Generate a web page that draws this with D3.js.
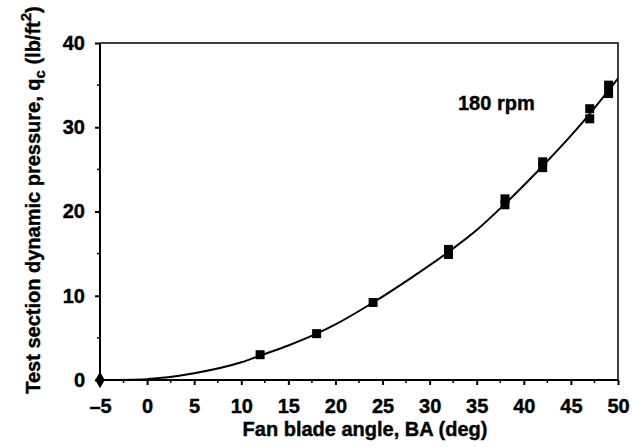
<!DOCTYPE html>
<html><head><meta charset="utf-8">
<script src="https://cdn.jsdelivr.net/npm/d3@7"></script>
<style>body{margin:0;background:#fff}svg{display:block}text{font-family:"Liberation Sans",Arial,Helvetica,sans-serif;font-weight:bold;fill:#000;stroke:#000;stroke-width:0.4}</style>
</head><body>
<svg id="c" width="632" height="448"></svg>
<script>
// Data
const pointX = [-5, 12, 18, 24, 32, 32, 38, 38, 42, 42, 47, 47, 49, 49];
const pointY = [0, 3.0, 5.5, 9.2, 14.9, 15.5, 20.8, 21.5, 25.2, 25.9, 31.0, 32.2, 34.0, 35.0];
const curveX = [-5, 0, 2, 5, 10, 12, 15, 18, 20, 24, 28, 32, 35, 38, 42, 45, 47, 50];
const curveY = [0, 0.1, 0.3, 0.8, 2.1, 2.9, 4.1, 5.5, 6.6, 9.2, 12.1, 15.2, 17.8, 20.9, 25.4, 29.0, 31.6, 35.8];
const xTicks = [-5, 0, 5, 10, 15, 20, 25, 30, 35, 40, 45, 50];
const yTicks = [0, 10, 20, 30, 40];
const label = "180 rpm";

const svg = d3.select("#c");
const x = d3.scaleLinear().domain([-5, 50]).range([100, 618]);
const y = d3.scaleLinear().domain([0, 40]).range([380, 43]);

// minor ticks
const xMinor = d3.range(-2.5, 50, 5);
const yMinor = d3.range(5, 40, 10);
svg.append("g").selectAll("line").data(xMinor).join("line")
  .attr("x1", d => x(d)).attr("x2", d => x(d)).attr("y1", 380).attr("y2", 383)
  .attr("stroke", "#000").attr("stroke-width", 1.5);
svg.append("g").selectAll("line").data(yMinor).join("line")
  .attr("y1", d => y(d)).attr("y2", d => y(d)).attr("x1", 100).attr("x2", 97)
  .attr("stroke", "#000").attr("stroke-width", 1.5);

// axes
const xAxis = svg.append("g").attr("transform", "translate(0,380)")
  .call(d3.axisBottom(x).tickValues(xTicks).tickSize(5).tickPadding(14).tickFormat(d => d < 0 ? "\u2013" + Math.abs(d) : d));
const yAxis = svg.append("g").attr("transform", "translate(100,0)")
  .call(d3.axisLeft(y).tickValues(yTicks).tickSize(5).tickPadding(10));
[xAxis, yAxis].forEach(a => {
  a.select(".domain").attr("stroke", "#000").attr("stroke-width", 2);
  a.selectAll(".tick line").attr("stroke", "#000").attr("stroke-width", 2);
  a.selectAll(".tick text").attr("font-size", 20).attr("font-weight", "bold")
   .attr("font-family", "'Liberation Sans', Arial, sans-serif").attr("fill", "#000");
});
xAxis.select(".domain").attr("d", "M100,0H618");
yAxis.select(".domain").attr("d", "M0,380V43");

// frame top and right
svg.append("path").attr("d", `M${x(-5)},${y(40)}H${x(50)}V${y(0)}`)
  .attr("fill", "none").attr("stroke", "#000").attr("stroke-width", 1.5);

// curve
const line = d3.line().x(d => x(d[0])).y(d => y(d[1])).curve(d3.curveMonotoneX);
svg.append("path").datum(curveX.map((v, i) => [v, curveY[i]]))
  .attr("d", line).attr("fill", "none").attr("stroke", "#000").attr("stroke-width", 2);

// points
const pts = pointX.map((v, i) => [v, pointY[i]]);
svg.append("g").selectAll("path").data(pts).join("path")
  .attr("transform", d => `translate(${x(d[0])},${y(d[1])})`)
  .attr("d", (d, i) => i === 0 ? d3.symbol(d3.symbolDiamond, 80)() : d3.symbol(d3.symbolSquare, 81)())
  .attr("fill", "#000");

// annotation
svg.append("text").attr("x", 458).attr("y", 110).attr("font-size", 20).text(label);

// axis titles
svg.append("text").attr("x", 365).attr("y", 436).attr("text-anchor", "middle")
  .attr("font-size", 20).text("Fan blade angle, BA (deg)");
const yt = svg.append("text").attr("transform", "translate(40,200) rotate(-90)")
  .attr("text-anchor", "middle").attr("font-size", 20);
yt.append("tspan").text("Test section dynamic pressure, q");
yt.append("tspan").attr("font-size", 15).attr("dy", 5).text("c");
yt.append("tspan").attr("dy", -5).text(" (lb/ft");
yt.append("tspan").attr("font-size", 15).attr("dy", -9).text("2");
yt.append("tspan").attr("dy", 9).text(")");
</script>
</body></html>
